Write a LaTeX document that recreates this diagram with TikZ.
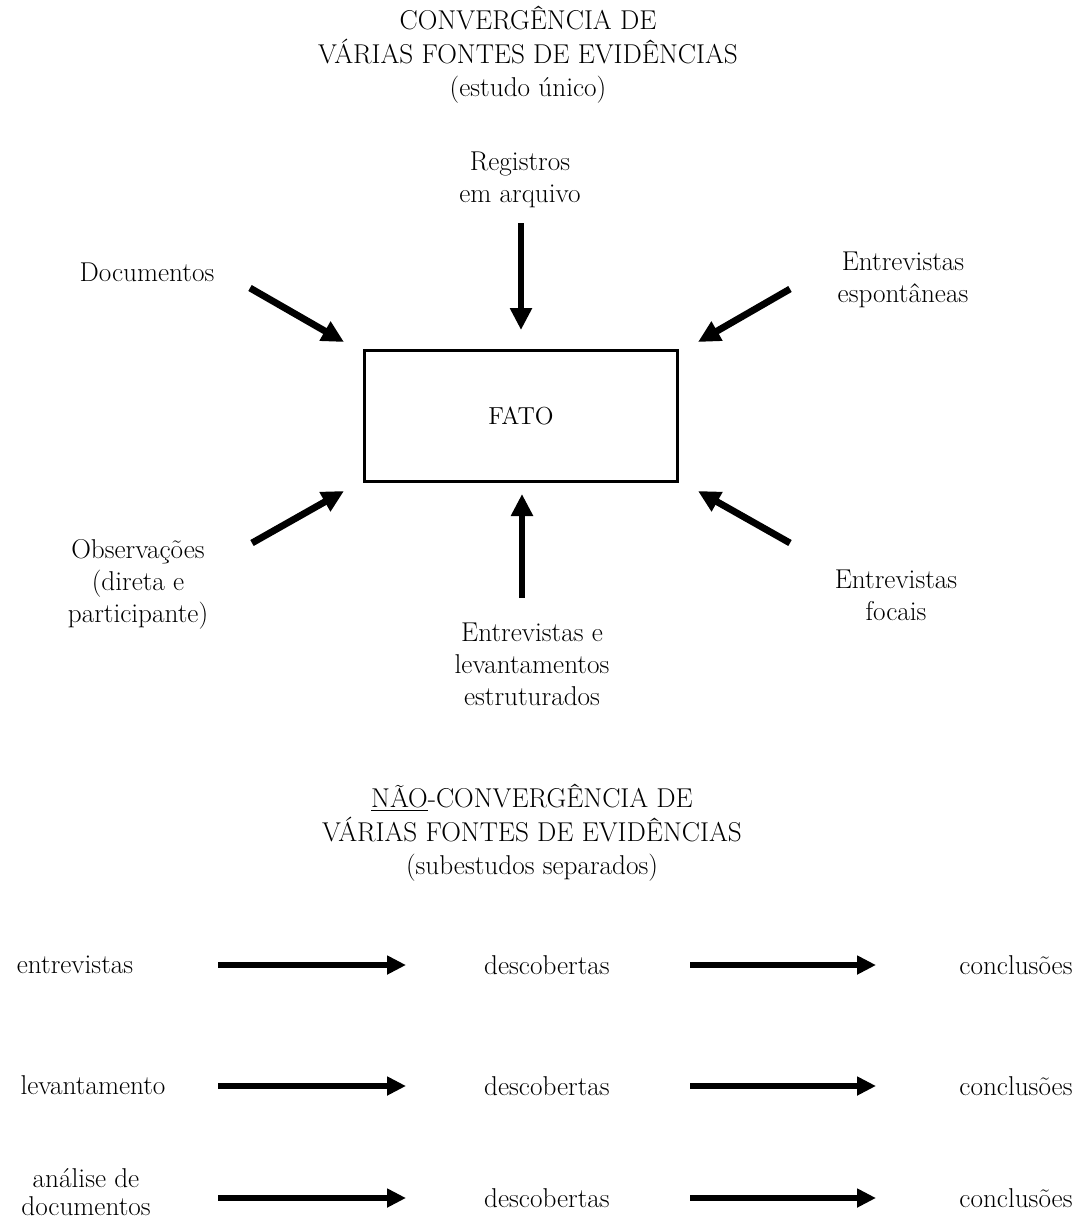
\documentclass[tikz,border=0pt]{standalone}
\usepackage{tikz}
\usetikzlibrary{arrows.meta,positioning}
\tikzset{
  txt/.style={
    align=center,
    inner sep=0pt,
    font=\fontsize{15.5}{18.2}\selectfont
  },
  head/.style={
    align=center,
    inner sep=0pt,
    font=\fontsize{15.5}{19}\selectfont
  },
  fact/.style={
    draw,
    line width=1.6pt,
    minimum width=6.26cm,
    minimum height=2.62cm,
    font=\fontsize{14}{16}\selectfont
  },
  bigarrow/.style={
    line width=3.9pt,
    -{Triangle[length=0.44cm,width=0.42cm]}
  },
  rowarrow/.style={
    line width=3.7pt,
    -{Triangle[length=0.38cm,width=0.36cm]}
  },
}
\begin{document}
\begin{tikzpicture}[x=0.02cm,y=-0.02cm]
  \useasboundingbox (0,0) rectangle (1089,1224);
  % convergence
  \node[head] (title1) at (528,55) {CONVERG\^ENCIA DE\\V\'ARIAS FONTES DE EVID\^ENCIAS\\(estudo \'unico)};
  \node[fact] (fato) at (521,416) {FATO};
  \node[txt] (reg) at (520,180) {Registros\\em arquivo};
  \node[txt] (doc) at (147,272) {Documentos};
  \node[txt] (esp) at (903,280) {Entrevistas\\espont\^aneas};
  \node[txt] (obs) at (138,584) {Observa\c{c}\~oes\\(direta e\\participante)};
  \node[txt] (foc) at (896,595) {Entrevistas\\focais};
  \node[txt] (est) at (532,664) {Entrevistas e\\levantamentos\\estruturados};
  \coordinate (regA) at (521,223);
  \coordinate (regB) at (521,330);
  \coordinate (docA) at (250,288);
  \coordinate (docB) at (344,342);
  \coordinate (espA) at (790,289);
  \coordinate (espB) at (698,342);
  \coordinate (obsA) at (252,543);
  \coordinate (obsB) at (344,491);
  \coordinate (focA) at (790,543);
  \coordinate (focB) at (698,491);
  \coordinate (estA) at (522,598);
  \coordinate (estB) at (522,494);
  \draw[bigarrow] (regA) -- (regB);
  \draw[bigarrow] (docA) -- (docB);
  \draw[bigarrow] (espA) -- (espB);
  \draw[bigarrow] (obsA) -- (obsB);
  \draw[bigarrow] (focA) -- (focB);
  \draw[bigarrow] (estA) -- (estB);
  % non-convergence
  \node[head] (title2) at (532,833) {\underline{N\~AO}-CONVERG\^ENCIA DE\\V\'ARIAS FONTES DE EVID\^ENCIAS\\(subestudos separados)};
  \node[txt] (src1) at (75,965) {entrevistas};
  \node[txt] (src2) at (93,1085) {levantamento};
  \node[txt,font=\fontsize{15.5}{16}\selectfont] (src3) at (86,1192) {an\'alise de\\documentos};
  \foreach \i/\y in {1/965,2/1086,3/1198} {
    \node[txt] (desc\i) at (547,\y) {descobertas};
    \node[txt] (conc\i) at (1016,\y) {conclus\~oes};
    \coordinate (p\i) at (218,\y);
    \coordinate (q\i) at (406,\y);
    \coordinate (r\i) at (690,\y);
    \coordinate (s\i) at (876,\y);
    \draw[rowarrow] (p\i) -- (q\i);
    \draw[rowarrow] (r\i) -- (s\i);
  }
\end{tikzpicture}
\end{document}
